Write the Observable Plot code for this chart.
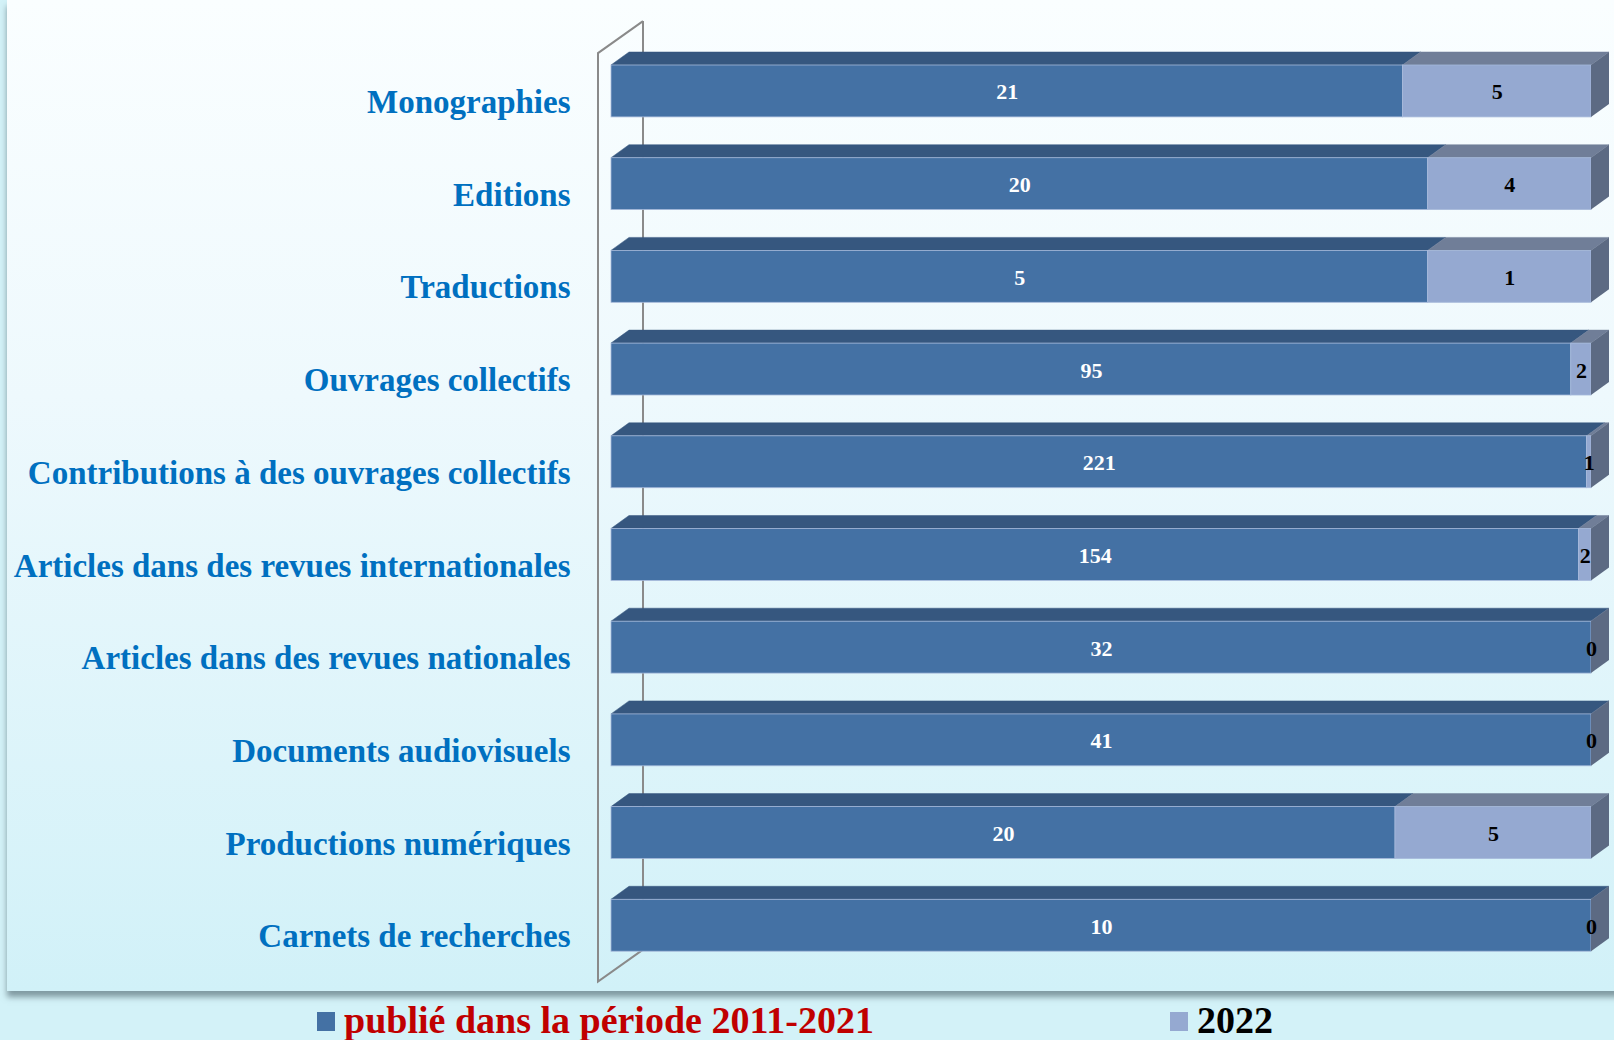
<!DOCTYPE html>
<html>
<head>
<meta charset="utf-8">
<script src="https://cdn.jsdelivr.net/npm/d3@7"></script>
<script src="https://cdn.jsdelivr.net/npm/@observablehq/plot@0.6"></script>
<style>
  html, body { margin: 0; padding: 0; }
  body { width: 1614px; height: 1040px; background: #d3f2f8; position: relative; overflow: hidden; font-family: "Liberation Serif", "Times New Roman", serif; }
  #box { position: absolute; left: 7px; top: 0; width: 1620px; height: 991px;
         background: linear-gradient(to bottom, #fafeff 0%, #eef9fd 40%, #d1f1f8 100%);
         box-shadow: 0 6px 6px rgba(60, 80, 90, 0.55); }
  #chart { position: absolute; left: 0; top: 0; }
  #chart svg { background: transparent; }
  #legend { position: absolute; left: 0; top: 1000px; width: 1614px; height: 40px; }
  .sw { position: absolute; width: 18px; height: 19px; top: 12px; }
  .lt { position: absolute; top: -2px; font-weight: bold; font-size: 38px; line-height: 44px; white-space: nowrap; }
</style>
</head>
<body>
<div id="box"></div>
<div id="chart"></div>
<div id="legend"></div>
<script>
const categories = ["Monographies","Editions","Traductions","Ouvrages collectifs","Contributions à des ouvrages collectifs","Articles dans des revues internationales","Articles dans des revues nationales","Documents audiovisuels","Productions numériques","Carnets de recherches"];
const values2011_2021 = [21,20,5,95,221,154,32,41,20,10];
const values2022 = [5,4,1,2,1,2,0,0,5,0];
const seriesNames = ["publié dans la période 2011-2021","2022"];
const frontColors = ["#4471a4","#95a9d1"];
const topColors = ["#36577f","#707e98"];
const sideColor = "#5c6a83";

const data = categories.flatMap((c, i) => [
  {cat: c, series: seriesNames[0], value: values2011_2021[i]},
  {cat: c, series: seriesNames[1], value: values2022[i]}
]);

const DX = 18, DY = 13;

function facesRender(index, scales, values, dims, context, next) {
  const g = d3.create("svg:g");
  let bw = scales.y && scales.y.bandwidth;
  bw = typeof bw === "function" ? bw() : (bw || 52);
  const fillIdx = new Map(frontColors.map((c, k) => [c, k]));
  for (const i of index) {
    const x1 = values.x1[i], x2 = values.x2[i], y0 = values.y[i];
    const k = fillIdx.get(values.fill ? values.fill[i] : frontColors[0]) ?? 0;
    g.append("polygon")
      .attr("points", [[x1, y0], [x2, y0], [x2 + DX, y0 - DY], [x1 + DX, y0 - DY]].map(p => p.join(",")).join(" "))
      .attr("fill", topColors[k])
      .attr("stroke", topColors[k]).attr("stroke-width", 0.5);
  }
  const front = next(index, scales, values, dims, context);
  g.node().appendChild(front);
  for (const i of index) {
    const k = fillIdx.get(values.fill ? values.fill[i] : frontColors[0]) ?? 0;
    if (k !== 1) continue;
    const x2 = values.x2[i], y0 = values.y[i];
    g.append("polygon")
      .attr("points", [[x2, y0], [x2 + DX, y0 - DY], [x2 + DX, y0 + bw - DY], [x2, y0 + bw]].map(p => p.join(",")).join(" "))
      .attr("fill", sideColor);
  }
  return g.node();
}

function wallRender(index, scales, values, dims) {
  const g = d3.create("svg:g").attr("fill", "none").attr("stroke", "#8a8a8a").attr("stroke-width", 2);
  const xf = dims.marginLeft - 13, xb = xf + 45;
  const yt = dims.marginTop + 8.5, yb = dims.height - dims.marginBottom + 10;
  g.append("polyline").attr("points", `${xb},${yb - 32} ${xb},${yt - 32}`);
  g.append("polyline").attr("points", `${xb},${yt - 32} ${xf},${yt} ${xf},${yb} ${xb},${yb - 32}`);
  return g.node();
}

const stackOpts = {x: "value", y: "cat", z: "series", offset: "normalize"};

const plot = Plot.plot({
  width: 1614,
  height: 1000,
  marginLeft: 611,
  marginRight: 23,
  marginTop: 44.6,
  marginBottom: 28.4,
  style: {fontFamily: "Liberation Serif, Times New Roman, serif", background: "transparent"},
  x: {domain: [0, 1], axis: null},
  y: {domain: categories, paddingInner: 0.44, paddingOuter: 0.22, round: false, label: null},
  color: {domain: seriesNames, range: frontColors},
  marks: [
    Plot.frame({render: wallRender}),
    Plot.barX(data, Plot.stackX({...stackOpts, fill: "series", stroke: "#a7badb", strokeWidth: 0.8, render: facesRender})),
    Plot.text(data, Plot.stackX({...stackOpts, text: d => d.series === seriesNames[0] ? String(d.value) : null,
      fill: "white", fontSize: 22, fontWeight: "bold", dy: 1})),
    Plot.text(data, Plot.stackX({...stackOpts, text: d => d.series === seriesNames[1] ? String(d.value) : null,
      fill: "black", fontSize: 22, fontWeight: "bold", dy: 1})),
    Plot.axisY({tickSize: 0, tickPadding: 41, fontSize: 33, fontWeight: "bold", fill: "#0070c0", dy: 11, label: null})
  ]
});
document.getElementById("chart").appendChild(plot);

const legend = d3.select("#legend");
const legendItems = [
  {name: seriesNames[0], color: frontColors[0], textColor: "#c00000", x: 317},
  {name: seriesNames[1], color: frontColors[1], textColor: "#000000", x: 1170}
];
for (const it of legendItems) {
  legend.append("div").attr("class", "sw").style("left", it.x + "px").style("background", it.color);
  legend.append("div").attr("class", "lt").style("left", (it.x + 27) + "px").style("color", it.textColor).text(it.name);
}
</script>
</body>
</html>
